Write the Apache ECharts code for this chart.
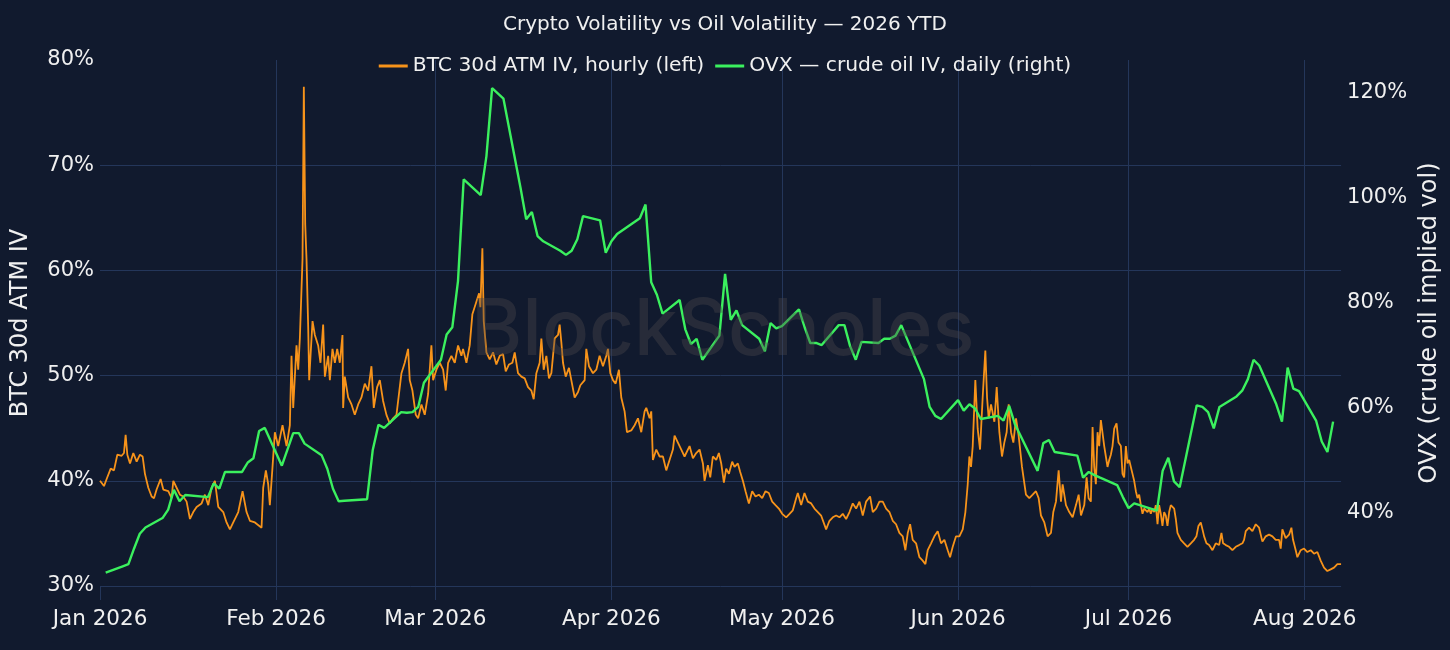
<!DOCTYPE html>
<html>
<head>
<meta charset="utf-8">
<script src="https://cdn.jsdelivr.net/npm/echarts@6.0.0/dist/echarts.min.js"></script>
<style>
  html, body { margin: 0; padding: 0; background: #111a2e; }
  #chart { width: 1450px; height: 650px; }
</style>
</head>
<body>
<div id="chart"></div>
<script>
// days since 2026-01-01 00:00 UTC -> timestamp
const DAY = 864e5;
const T0 = Date.UTC(2026, 0, 1);

const monthLabels = ['Jan 2026', 'Feb 2026', 'Mar 2026', 'Apr 2026', 'May 2026', 'Jun 2026', 'Jul 2026', 'Aug 2026'];
const rightTicks = [40, 60, 80, 100, 120];

// BTC 30d ATM IV, [day offset, %]
const btcJan = [[0.00,40.00],[0.70,39.50],[1.17,40.17],[1.88,41.16],[2.46,40.99],[3.05,42.48],[3.81,42.38],[4.22,42.64],[4.51,44.36],[4.81,42.48],[5.28,41.65],[5.86,42.64],[6.45,41.82],[7.03,42.48],[7.50,42.31],[7.91,40.66],[8.50,39.34],[9.09,38.51],[9.50,38.35],[9.96,39.17],[10.67,40.17],[11.14,39.17],[12.02,39.01],[12.60,38.35],[12.90,40.00],[13.48,39.34],[14.07,38.68],[14.65,38.51],[15.24,38.02],[15.83,36.37],[16.41,37.03],[17.00,37.52],[17.88,37.85],[18.46,38.68],[19.05,37.69],[19.64,39.34],[20.22,40.00],[20.81,37.52],[21.69,37.03],[22.27,36.04],[22.86,35.38],[23.45,36.04],[24.33,37.03],[25.09,39.01],[25.79,37.03],[26.38,36.20],[27.26,36.04],[28.43,35.54],[28.72,39.34],[29.19,40.99],[29.60,39.67],[29.89,37.69],[30.36,41.32],[30.77,44.62]];
const btcFeb = [[31.36,43.30],[32.12,45.28],[32.83,43.30],[33.41,45.28],[33.70,51.88],[34.00,46.93],[34.58,52.87],[34.88,50.56],[35.17,53.53],[35.64,61.12],[35.87,77.46],[36.11,64.42],[36.34,61.12],[36.64,54.52],[36.81,49.57],[37.05,51.88],[37.40,55.18],[37.81,53.86],[38.39,52.87],[38.80,51.22],[39.27,54.85],[39.57,49.90],[40.15,51.88],[40.45,49.57],[40.91,52.54],[41.33,51.22],[41.74,52.54],[42.20,51.22],[42.67,53.86],[42.79,46.93],[43.08,49.90],[43.67,47.92],[44.26,47.26],[44.84,46.27],[45.43,47.26],[46.01,47.92],[46.60,49.24],[47.19,48.58],[47.77,50.89],[48.18,46.93],[48.77,48.91],[49.24,49.57],[49.82,47.59],[50.41,46.27],[51.00,45.45],[51.58,45.94],[52.17,46.27],[53.05,50.23],[53.63,51.22],[54.22,52.54],[54.51,49.57],[54.98,48.58],[55.57,46.27],[55.98,45.94],[56.57,47.26],[57.15,46.27],[57.74,48.25],[58.32,52.87],[58.62,49.57]];
const btcMar = [[59.20,50.56],[59.79,51.22],[60.38,50.56],[60.84,48.58],[61.26,51.22],[61.84,51.88],[62.43,51.22],[63.01,52.87],[63.60,51.88],[63.89,52.54],[64.48,51.22],[65.06,52.87],[65.53,55.84],[66.12,56.83],[66.71,57.82],[66.94,56.50],[67.29,62.11],[67.53,55.18],[68.00,52.21],[68.58,51.55],[69.17,52.21],[69.75,51.06],[70.34,51.88],[70.93,52.05],[71.40,50.40],[71.98,51.06],[72.57,51.22],[72.98,52.21],[73.56,50.23],[74.15,49.90],[74.74,49.74],[75.32,48.91],[75.91,48.58],[76.32,47.76],[76.79,50.23],[77.37,51.22],[77.67,53.53],[78.08,50.56],[78.55,51.88],[79.01,49.74],[79.43,50.23],[80.01,53.53],[80.60,53.86],[80.89,54.85],[81.18,53.20],[81.48,51.22],[81.95,49.90],[82.53,50.73],[82.94,49.57],[83.53,47.92],[84.11,48.42],[84.53,49.08],[85.29,49.57],[85.58,52.54],[86.05,50.89],[86.75,50.23],[87.34,50.56],[87.92,51.88],[88.51,50.89],[89.10,51.88],[89.39,52.54],[89.80,50.23]];
const btcApr = [[90.27,49.57],[90.74,49.24],[91.32,50.56],[91.73,47.92],[92.32,46.60],[92.73,44.62],[93.49,44.79],[94.08,45.28],[94.67,45.94],[95.25,44.62],[95.84,46.60],[96.13,46.93],[96.72,45.94],[97.01,46.60],[97.30,41.98],[97.89,42.97],[98.48,42.31],[99.06,42.31],[99.65,40.99],[100.23,41.98],[100.82,42.97],[101.11,44.29],[101.70,43.63],[102.29,42.97],[102.87,42.31],[103.75,43.30],[104.34,42.15],[104.92,42.64],[105.51,42.97],[106.10,41.65],[106.39,40.00],[106.98,41.49],[107.39,40.33],[107.85,42.31],[108.44,41.98],[108.91,42.64],[109.32,41.65],[109.79,39.83],[110.20,41.16],[110.67,40.66],[111.25,41.82],[111.66,41.32],[112.25,41.65],[112.66,40.83],[113.13,40.00],[113.60,39.01],[114.19,37.85],[114.77,39.01],[115.36,38.51],[115.94,38.68],[116.53,38.35],[117.12,39.01],[117.70,38.84],[118.29,38.02],[118.87,37.69],[119.46,37.36]];
const btcMay = [[120.05,36.86],[120.75,36.53],[121.34,36.86],[121.92,37.19],[122.51,38.35],[122.80,38.84],[123.39,37.69],[123.97,38.84],[124.56,38.02],[125.15,37.85],[125.73,37.36],[126.32,37.03],[126.90,36.70],[127.78,35.38],[128.37,36.20],[128.96,36.53],[129.54,36.70],[130.13,36.53],[130.71,36.86],[131.30,36.37],[131.89,37.03],[132.47,37.85],[133.06,37.36],[133.65,38.02],[134.23,36.70],[134.82,38.02],[135.52,38.51],[135.99,37.03],[136.58,37.36],[137.16,38.02],[137.75,38.02],[138.34,37.36],[138.92,37.03],[139.51,36.20],[140.09,35.87],[140.67,35.05],[141.26,34.72],[141.73,33.40],[142.15,35.05],[142.56,35.87],[143.02,34.39],[143.61,34.06],[144.20,32.74],[144.78,32.41],[145.25,32.08],[145.66,33.40],[146.25,34.06],[146.83,34.72],[147.42,35.21],[148.01,34.06],[148.59,34.39],[149.18,33.40],[149.59,32.74],[150.06,33.73],[150.64,34.72]];
const btcJun = [[151.23,34.72],[151.82,35.38],[152.29,37.03],[152.70,39.67],[152.99,42.31],[153.28,41.32],[153.58,43.30],[154.04,49.57],[154.45,44.95],[154.87,42.97],[155.33,47.92],[155.80,52.38],[156.10,47.92],[156.39,45.94],[156.80,47.26],[157.39,45.61],[157.80,48.91],[158.27,44.62],[158.73,42.31],[159.14,43.63],[159.55,44.62],[159.91,47.26],[160.32,44.62],[160.73,43.63],[161.20,45.94],[161.66,44.29],[162.25,41.32],[162.95,38.68],[163.54,38.35],[164.13,38.68],[164.71,39.01],[165.18,38.35],[165.59,36.70],[166.18,36.04],[166.76,34.72],[167.35,35.05],[167.76,37.03],[168.23,38.02],[168.70,40.99],[169.11,38.02],[169.40,39.67],[169.99,37.69],[170.57,37.03],[171.16,36.53],[171.75,37.69],[172.22,38.68],[172.63,36.70],[173.21,37.69],[173.62,40.33],[173.97,38.35],[174.37,38.02],[174.67,45.12],[174.96,41.32],[175.25,39.67],[175.55,44.62],[175.84,43.30],[176.13,45.78],[176.42,45.94],[176.72,43.30],[177.01,42.31],[177.30,41.32],[177.60,41.98],[177.89,42.48],[178.18,43.30],[178.48,44.95],[178.89,45.45],[179.24,43.63],[179.65,43.30],[179.94,40.66],[180.23,40.33],[180.53,43.30],[180.82,41.65]];
const btcJul = [[181.11,41.98],[181.41,41.82],[181.70,40.66],[181.99,40.00],[182.29,39.01],[182.58,38.35],[182.87,38.68],[183.17,37.69],[183.46,36.86],[183.75,37.36],[184.04,37.19],[184.34,37.03],[184.63,37.36],[184.92,36.86],[185.22,37.36],[185.51,37.03],[185.80,37.69],[186.10,35.87],[186.39,37.69],[186.68,36.86],[186.97,35.71],[187.27,37.03],[187.56,36.70],[187.85,35.71],[188.15,37.03],[188.44,37.69],[188.73,37.85],[189.03,37.36],[189.32,36.37],[189.61,35.05],[190.20,34.39],[190.78,34.06],[191.37,33.73],[191.96,34.06],[192.54,34.39],[192.95,34.72],[193.30,35.71],[193.71,36.04],[194.01,35.38],[194.30,34.72],[194.71,34.06],[195.18,33.89],[195.77,33.40],[196.35,34.06],[196.94,33.89],[197.35,35.05],[197.64,34.06],[198.11,33.89],[198.70,33.73],[199.28,33.40],[199.87,33.73],[200.45,33.89],[201.04,34.06],[201.33,34.39],[201.63,35.21],[202.21,35.54],[202.80,35.21],[203.39,35.87],[203.97,35.54],[204.56,34.22],[205.14,34.72],[205.73,34.88],[206.32,34.72],[206.90,34.39],[207.49,34.39],[207.78,33.56],[208.07,35.38],[208.66,34.55],[209.25,34.88],[209.66,35.54],[209.95,34.39],[210.42,33.40],[210.71,32.74],[211.30,33.40],[211.88,33.56]];
const btcAug = [[212.47,33.23],[213.06,33.40],[213.64,33.07],[214.23,33.23],[214.81,32.41],[215.40,31.75],[215.99,31.42],[216.57,31.58],[217.16,31.75],[217.75,32.08],[218.40,32.08]];

// OVX daily closes, [date, %]
const ovxDaily = [
  ['2026-01-02',28.5],['2026-01-05',29.7],['2026-01-06',30.1],['2026-01-07',33.1],['2026-01-08',35.9],['2026-01-09',37.1],
  ['2026-01-12',38.9],['2026-01-13',40.5],['2026-01-14',44.3],['2026-01-15',42.1],['2026-01-16',43.3],
  ['2026-01-20',42.9],['2026-01-21',45.5],['2026-01-22',44.5],['2026-01-23',47.7],
  ['2026-01-26',47.7],['2026-01-27',49.5],['2026-01-28',50.3],['2026-01-29',55.5],['2026-01-30',56.1],
  ['2026-02-02',48.9],['2026-02-03',52.0],['2026-02-04',55.1],['2026-02-05',55.1],['2026-02-06',53.1],
  ['2026-02-09',50.9],['2026-02-10',48.3],['2026-02-11',44.5],['2026-02-12',42.1],['2026-02-13',42.2],
  ['2026-02-17',42.5],['2026-02-18',51.9],['2026-02-19',56.7],['2026-02-20',56.1],
  ['2026-02-23',59.1],['2026-02-24',59.0],['2026-02-25',59.1],['2026-02-26',60.1],['2026-02-27',64.7],
  ['2026-03-02',69.1],['2026-03-03',73.9],['2026-03-04',75.3],['2026-03-05',84.1],['2026-03-06',103.5],
  ['2026-03-09',100.5],['2026-03-10',107.9],['2026-03-11',120.9],['2026-03-12',119.9],['2026-03-13',118.9],
  ['2026-03-16',101.9],['2026-03-17',95.9],['2026-03-18',97.3],['2026-03-19',92.7],['2026-03-20',91.7],
  ['2026-03-23',89.9],['2026-03-24',89.1],['2026-03-25',89.9],['2026-03-26',92.1],['2026-03-27',96.5],
  ['2026-03-30',95.7],['2026-03-31',89.5],['2026-04-01',91.7],['2026-04-02',93.1],
  ['2026-04-06',96.1],['2026-04-07',98.7],['2026-04-08',83.9],['2026-04-09',81.5],['2026-04-10',77.9],
  ['2026-04-13',80.5],['2026-04-14',74.9],['2026-04-15',72.1],['2026-04-16',73.1],['2026-04-17',69.1],
  ['2026-04-20',73.7],['2026-04-21',85.5],['2026-04-22',76.7],['2026-04-23',78.5],['2026-04-24',75.7],
  ['2026-04-27',73.1],['2026-04-28',70.7],['2026-04-29',76.1],['2026-04-30',75.1],['2026-05-01',75.5],
  ['2026-05-04',78.7],['2026-05-05',75.3],['2026-05-06',72.3],['2026-05-07',72.3],['2026-05-08',71.9],
  ['2026-05-11',75.7],['2026-05-12',75.7],['2026-05-13',71.7],['2026-05-14',69.1],['2026-05-15',72.5],
  ['2026-05-18',72.3],['2026-05-19',73.1],['2026-05-20',73.1],['2026-05-21',73.7],['2026-05-22',75.7],
  ['2026-05-26',65.4],['2026-05-27',60.1],['2026-05-28',58.4],['2026-05-29',57.8],
  ['2026-06-01',61.4],['2026-06-02',59.4],['2026-06-03',60.6],['2026-06-04',59.8],['2026-06-05',57.8],
  ['2026-06-08',58.4],['2026-06-09',57.5],['2026-06-10',60.3],['2026-06-11',56.8],['2026-06-12',54.6],
  ['2026-06-15',47.9],['2026-06-16',53.2],['2026-06-17',53.8],['2026-06-18',51.5],
  ['2026-06-22',50.8],['2026-06-23',46.6],['2026-06-24',47.7],['2026-06-25',47.1],['2026-06-26',46.6],
  ['2026-06-29',45.2],['2026-06-30',42.9],['2026-07-01',40.8],['2026-07-02',41.7],
  ['2026-07-06',40.3],['2026-07-07',47.9],['2026-07-08',50.4],['2026-07-09',45.9],['2026-07-10',44.8],
  ['2026-07-13',60.4],['2026-07-14',60.1],['2026-07-15',59.1],['2026-07-16',56.0],['2026-07-17',60.1],
  ['2026-07-20',62.1],['2026-07-21',63.2],['2026-07-22',65.4],['2026-07-23',69.1],['2026-07-24',68.0],
  ['2026-07-27',60.6],['2026-07-28',57.3],['2026-07-29',67.6],['2026-07-30',63.6],['2026-07-31',63.1],
  ['2026-08-03',57.5],['2026-08-04',53.5],['2026-08-05',51.5],['2026-08-06',57.3]
];

const gridColor = '#24365a';
const textColor = '#f0f0f0';

const btcData = [].concat(btcJan, btcFeb, btcMar, btcApr, btcMay, btcJun, btcJul, btcAug)
  .map(p => [T0 + p[0] * DAY, p[1]]);
const ovxData = ovxDaily.map(p => [Date.parse(p[0] + 'T00:00:00Z'), p[1]]);
const monthStarts = monthLabels.map((_, i) => Date.UTC(2026, i, 1));
const xMax = btcData[btcData.length - 1][0];

const chart = echarts.init(document.getElementById('chart'));
chart.setOption({
  backgroundColor: '#111a2e',
  animation: false,
  textStyle: { fontFamily: 'DejaVu Sans' },
  title: {
    text: 'Crypto Volatility vs Oil Volatility — 2026 YTD',
    left: 'center',
    top: 10,
    textStyle: { color: textColor, fontSize: 20, fontWeight: 'normal', fontFamily: 'DejaVu Sans' }
  },
  legend: {
    top: 51,
    left: 'center',
    icon: 'rect',
    itemWidth: 29,
    itemHeight: 3,
    itemGap: 11,
    textStyle: { color: textColor, fontSize: 20.3, fontFamily: 'DejaVu Sans' },
    data: ['BTC 30d ATM IV, hourly (left)', 'OVX — crude oil IV, daily (right)']
  },
  grid: { left: 100, right: 108, top: 60, bottom: 64 },
  xAxis: {
    type: 'value',
    min: T0,
    max: xMax,
    axisLine: { show: false },
    axisTick: { show: true, length: 14, lineStyle: { color: gridColor }, customValues: monthStarts },
    axisLabel: {
      customValues: monthStarts,
      color: textColor,
      fontSize: 21.5,
      margin: 22,
      formatter: v => monthLabels[new Date(v).getUTCMonth()]
    },
    splitLine: { show: true, showMinLine: false, lineStyle: { color: gridColor, width: 1 } }
  },
  yAxis: [
    {
      type: 'value',
      min: 30,
      max: 80,
      interval: 10,
      position: 'left',
      name: 'BTC 30d ATM IV',
      nameLocation: 'middle',
      nameRotate: 90,
      nameGap: 67,
      nameTextStyle: { color: textColor, fontSize: 24, fontFamily: 'DejaVu Sans' },
      axisLine: { show: false },
      axisTick: { show: false },
      axisLabel: { color: textColor, fontSize: 21, margin: 6, formatter: '{value}%' },
      splitLine: { show: true, showMaxLine: false, lineStyle: { color: gridColor, width: 1 } }
    },
    {
      type: 'value',
      min: 25.94,
      max: 126.28,
      position: 'right',
      name: 'OVX (crude oil implied vol)',
      nameLocation: 'middle',
      nameRotate: 90,
      nameGap: 72,
      nameTextStyle: { color: textColor, fontSize: 24, fontFamily: 'DejaVu Sans' },
      axisLine: { show: false },
      axisTick: { show: false },
      axisLabel: { customValues: rightTicks, color: textColor, fontSize: 21, margin: 6, formatter: v => v + '%' },
      splitLine: { show: false }
    }
  ],
  series: [
    {
      name: 'BTC 30d ATM IV, hourly (left)',
      type: 'line',
      yAxisIndex: 0,
      data: btcData,
      showSymbol: false,
      color: '#f7931a',
      lineStyle: { width: 1.8, color: '#f7931a' },
      z: 2
    },
    {
      name: 'OVX — crude oil IV, daily (right)',
      type: 'line',
      yAxisIndex: 1,
      data: ovxData,
      showSymbol: false,
      color: '#3bf05e',
      lineStyle: { width: 2.4, color: '#3bf05e' },
      z: 3
    }
  ],
  graphic: [{
    type: 'text',
    left: 471,
    top: 293,
    z: 100,
    silent: true,
    style: {
      text: 'BlockScholes',
      font: '500 78px Inter',
      fill: 'rgba(72,70,76,0.4)'
    }
  }]
});
</script>
</body>
</html>
